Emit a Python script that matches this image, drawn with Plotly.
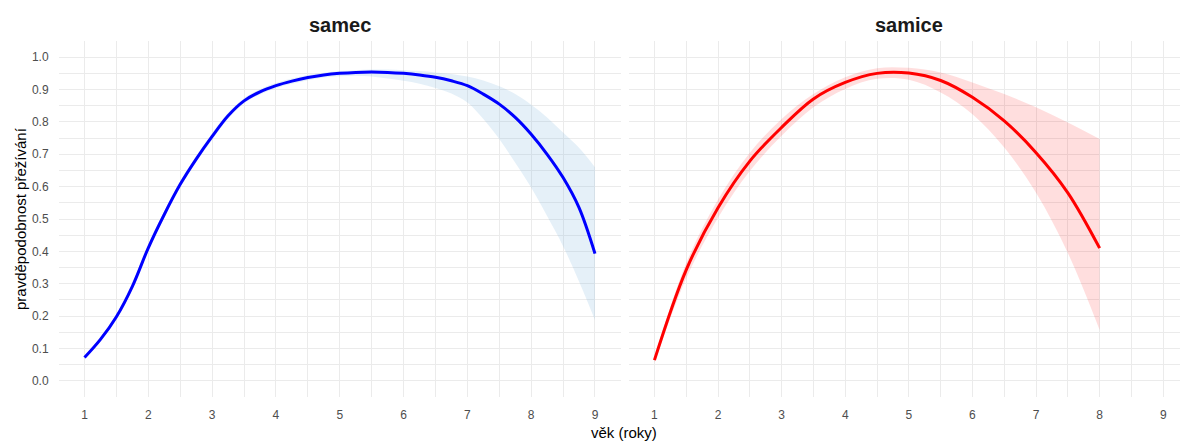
import plotly.graph_objects as go

# ---- data ----
age_m = [1, 1.25, 1.5, 1.75, 2, 2.25, 2.5, 2.75, 3, 3.25, 3.5, 3.75, 4, 4.25, 4.5, 4.75, 5,
         5.25, 5.5, 5.75, 6, 6.25, 6.5, 6.75, 7, 7.25, 7.5, 7.75, 8, 8.25, 8.5, 8.75, 9]
surv_m = [0.072, 0.128, 0.198, 0.292, 0.411, 0.514, 0.607, 0.685, 0.755, 0.819, 0.865, 0.893,
          0.912, 0.926, 0.937, 0.945, 0.950, 0.953, 0.954, 0.953, 0.950, 0.945, 0.938, 0.927,
          0.912, 0.886, 0.855, 0.814, 0.762, 0.700, 0.628, 0.535, 0.393]
upper_m = [0.078, 0.135, 0.206, 0.301, 0.421, 0.524, 0.617, 0.695, 0.765, 0.828, 0.873, 0.901,
           0.920, 0.934, 0.945, 0.952, 0.957, 0.960, 0.962, 0.962, 0.960, 0.957, 0.953, 0.948,
           0.940, 0.928, 0.910, 0.886, 0.853, 0.814, 0.767, 0.720, 0.660]
lower_m = [0.066, 0.121, 0.190, 0.283, 0.401, 0.504, 0.597, 0.675, 0.745, 0.810, 0.857, 0.885,
           0.904, 0.918, 0.929, 0.937, 0.941, 0.943, 0.940, 0.934, 0.927, 0.918, 0.905, 0.888,
           0.860, 0.809, 0.747, 0.674, 0.597, 0.509, 0.416, 0.307, 0.188]

age_f = [1, 1.5, 2, 2.5, 3, 3.5, 4, 4.5, 5, 5.5, 6, 6.5, 7, 7.5, 8]
surv_f = [0.064, 0.343, 0.535, 0.679, 0.783, 0.871, 0.922, 0.950, 0.951, 0.928, 0.876, 0.803, 0.705, 0.581, 0.41]
upper_f = [0.072, 0.364, 0.560, 0.705, 0.809, 0.886, 0.938, 0.966, 0.967, 0.953, 0.922, 0.886, 0.845, 0.798, 0.747]
lower_f = [0.056, 0.317, 0.504, 0.648, 0.757, 0.845, 0.902, 0.933, 0.930, 0.891, 0.824, 0.721, 0.581, 0.395, 0.157]

y_ticks = [0.0, 0.1, 0.2, 0.3, 0.4, 0.5, 0.6, 0.7, 0.8, 0.9, 1.0]
x_ticks = [1, 2, 3, 4, 5, 6, 7, 8, 9]

# ---- layout geometry ----
W, H = 1180, 441
ML, MR, MT, MB = 59, 0, 41, 44
PW = W - ML - MR
PH = H - MT - MB
left_dom = [0, (620.5 - ML) / PW]
right_dom = [(629 - ML) / PW, 1]

fig = go.Figure()

def band(x, lo, hi, color, xa, ya):
    fig.add_trace(go.Scatter(x=x, y=hi, mode="lines", line=dict(width=0, shape="spline"),
                             hoverinfo="skip", showlegend=False, xaxis=xa, yaxis=ya))
    fig.add_trace(go.Scatter(x=x, y=lo, mode="lines", line=dict(width=0, shape="spline"),
                             fill="tonexty", fillcolor=color, hoverinfo="skip",
                             showlegend=False, xaxis=xa, yaxis=ya))

band(age_m, lower_m, upper_m, "rgba(125,180,220,0.2)", "x", "y")
fig.add_trace(go.Scatter(x=age_m, y=surv_m, mode="lines",
                         line=dict(color="#0000FF", width=3, shape="spline"),
                         showlegend=False, xaxis="x", yaxis="y"))
band(age_f, lower_f, upper_f, "rgba(255,0,0,0.13)", "x2", "y2")
fig.add_trace(go.Scatter(x=age_f, y=surv_f, mode="lines",
                         line=dict(color="#FF0000", width=3, shape="spline"),
                         showlegend=False, xaxis="x2", yaxis="y2"))

grid = "#EBEBEB"
tickfont = dict(family="Liberation Sans, Arial, sans-serif", size=12, color="#4D4D4D")
xcommon = dict(tickmode="array", tickvals=x_ticks, ticktext=[str(v) for v in x_ticks],
               showgrid=True, gridcolor=grid, gridwidth=1, zeroline=False,
               showline=False, ticks="outside", ticklen=7, tickcolor="rgba(0,0,0,0)",
               minor=dict(dtick=0.5, tick0=0, showgrid=True, gridcolor=grid, gridwidth=1),
               tickfont=tickfont)
ycommon = dict(range=[-0.05, 1.05], tickmode="array", tickvals=y_ticks,
               ticktext=[f"{v:.1f}" for v in y_ticks],
               showgrid=True, gridcolor=grid, gridwidth=1, zeroline=False,
               showline=False, ticks="outside", ticklen=7, tickcolor="rgba(0,0,0,0)",
               minor=dict(dtick=0.05, tick0=0, showgrid=True, gridcolor=grid, gridwidth=1),
               tickfont=tickfont)

fig.update_layout(
    width=W, height=H,
    margin=dict(l=ML, r=MR, t=MT, b=MB),
    paper_bgcolor="white", plot_bgcolor="white",
    font=dict(family="Liberation Sans, Arial, sans-serif"),
    xaxis=dict(domain=left_dom, range=[0.6, 9.4], anchor="y", **xcommon),
    yaxis=dict(domain=[0, 1], anchor="x", **ycommon),
    xaxis2=dict(domain=right_dom, range=[0.6, 0.6 + (W - 629) / 63.6], anchor="y2", **xcommon),
    yaxis2=dict(domain=[0, 1], anchor="x2", matches="y", showticklabels=False,
                **{k: v for k, v in ycommon.items() if k not in ("range",)}),
)

def px_x(p):
    return (p - ML) / PW

def px_y(p):
    return (H - MB - p) / PH

title_font = dict(family="Liberation Sans, Arial, sans-serif", size=20, color="#1A1A1A")
fig.add_annotation(text="<b>samec</b>", x=px_x(339.5), y=px_y(25), xref="paper", yref="paper",
                   showarrow=False, font=title_font, xanchor="center", yanchor="middle")
fig.add_annotation(text="<b>samice</b>", x=px_x(908.5), y=px_y(25), xref="paper", yref="paper",
                   showarrow=False, font=title_font, xanchor="center", yanchor="middle")
axis_font = dict(family="Liberation Sans, Arial, sans-serif", size=15, color="#000000")
fig.add_annotation(text="věk (roky)", x=px_x(623.5), y=px_y(432), xref="paper", yref="paper",
                   showarrow=False, font=axis_font, xanchor="center", yanchor="middle")
fig.add_annotation(text="pravděpodobnost přežívání", x=px_x(20), y=px_y(219), xref="paper",
                   yref="paper", showarrow=False, font=axis_font, textangle=-90,
                   xanchor="center", yanchor="middle")

fig.write_html("out.html")
